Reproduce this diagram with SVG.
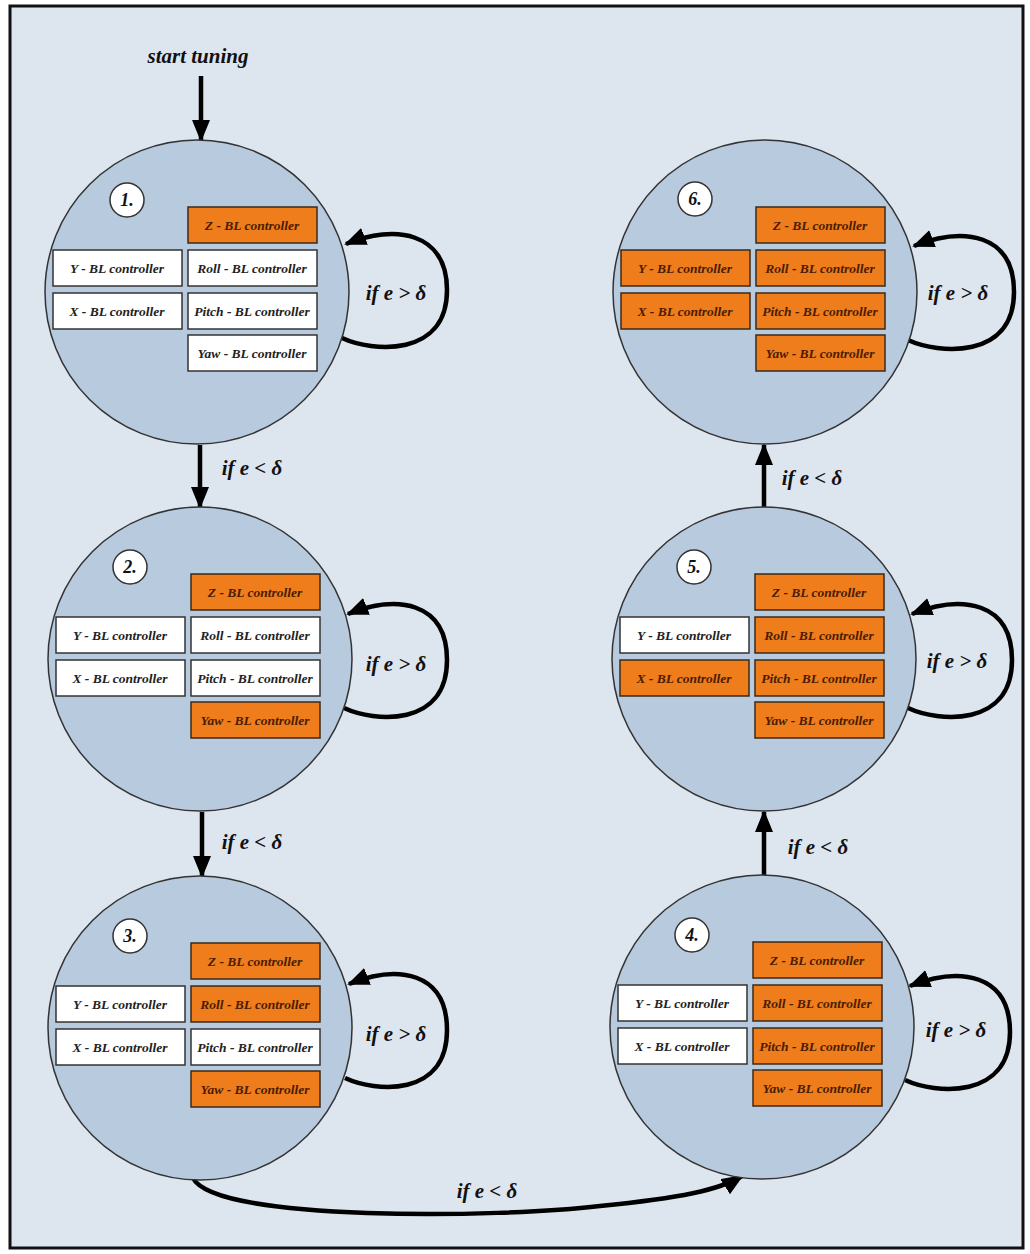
<svg xmlns="http://www.w3.org/2000/svg" width="1030" height="1254" viewBox="0 0 1030 1254">
<style>
.frame{fill:#dde5ee;stroke:#111;stroke-width:3}
.state{fill:#b8cade;stroke:#333;stroke-width:1.5}
.num{fill:#fff;stroke:#333;stroke-width:1.5}
.numt{font-family:"Liberation Serif","DejaVu Serif",serif;font-style:italic;font-weight:bold;font-size:18px;fill:#111;text-anchor:middle}
.bw{fill:#fff;stroke:#333;stroke-width:1.5}
.bo{fill:#f07d1c;stroke:#3a2a1a;stroke-width:1.5}
.bt{font-family:"Liberation Serif","DejaVu Serif",serif;font-style:italic;font-weight:bold;font-size:13.5px;text-anchor:middle}
.tw{fill:#222}
.to{fill:#4a1c00}
.lbl{font-family:"Liberation Serif","DejaVu Serif",serif;font-style:italic;font-weight:bold;font-size:21px;fill:#111;text-anchor:middle}
.edge{fill:none;stroke:#000;stroke-width:4.5;marker-end:url(#ah)}
</style>
<defs>
<marker id="ah" markerUnits="userSpaceOnUse" markerWidth="24" markerHeight="20" refX="20" refY="9" orient="auto">
<path d="M0,0 L22,9 L0,18 Z" fill="#000"/>
</marker>
</defs>
<rect class="frame" x="10" y="6" width="1013" height="1242"/>

<g id="connectors">
<path class="edge" d="M201,76 L201,140"/>
<text class="lbl" x="198" y="63">start tuning</text>
<path class="edge" d="M200,445 L200,507"/>
<text class="lbl" x="252" y="475">if e &lt; δ</text>
<path class="edge" d="M202,812 L202,876"/>
<text class="lbl" x="252" y="849">if e &lt; δ</text>
<path class="edge" d="M193,1178 C215,1222 500,1218 600,1206 C680,1198 720,1190 742,1176"/>
<text class="lbl" x="487" y="1198">if e &lt; δ</text>
<path class="edge" d="M764,878 L764,812"/>
<text class="lbl" x="818" y="854">if e &lt; δ</text>
<path class="edge" d="M764,508 L764,445"/>
<text class="lbl" x="812" y="485">if e &lt; δ</text>
<path class="edge" d="M342,338 C372,352 447,358 447,290 C447,232 395,224 346,244"/>
<text class="lbl" x="396" y="300">if e &gt; δ</text>
<path class="edge" d="M344,708 C374,722 447,728 447,660 C447,602 397,594 348,614"/>
<text class="lbl" x="396" y="671">if e &gt; δ</text>
<path class="edge" d="M345,1078 C375,1092 447,1098 447,1030 C447,972 398,964 349,984"/>
<text class="lbl" x="396" y="1041">if e &gt; δ</text>
<path class="edge" d="M905,1080 C935,1094 1010,1100 1010,1032 C1010,974 960,966 910,986"/>
<text class="lbl" x="956" y="1037">if e &gt; δ</text>
<path class="edge" d="M908,708 C938,722 1012,728 1012,660 C1012,602 962,594 912,614"/>
<text class="lbl" x="957" y="668">if e &gt; δ</text>
<path class="edge" d="M908,340 C938,354 1014,360 1014,292 C1014,234 964,226 914,246"/>
<text class="lbl" x="958" y="300">if e &gt; δ</text>
</g>

<g id="state1">
<circle class="state" cx="197" cy="292" r="152"/>
<circle class="num" cx="127" cy="200" r="17"/><text class="numt" x="127" y="206">1.</text>
<rect class="bo" x="188" y="207" width="129" height="36"/><text class="bt to" x="252" y="230">Z - BL controller</text>
<rect class="bw" x="188" y="250" width="129" height="36"/><text class="bt tw" x="252" y="273">Roll - BL controller</text>
<rect class="bw" x="188" y="293" width="129" height="36"/><text class="bt tw" x="252" y="316">Pitch - BL controller</text>
<rect class="bw" x="188" y="335" width="129" height="36"/><text class="bt tw" x="252" y="358">Yaw - BL controller</text>
<rect class="bw" x="53" y="250" width="129" height="36"/><text class="bt tw" x="117" y="273">Y - BL controller</text>
<rect class="bw" x="53" y="293" width="129" height="36"/><text class="bt tw" x="117" y="316">X - BL controller</text>
</g>

<g id="state2">
<circle class="state" cx="200" cy="659" r="152"/>
<circle class="num" cx="130" cy="567" r="17"/><text class="numt" x="130" y="573">2.</text>
<rect class="bo" x="191" y="574" width="129" height="36"/><text class="bt to" x="255" y="597">Z - BL controller</text>
<rect class="bw" x="191" y="617" width="129" height="36"/><text class="bt tw" x="255" y="640">Roll - BL controller</text>
<rect class="bw" x="191" y="660" width="129" height="36"/><text class="bt tw" x="255" y="683">Pitch - BL controller</text>
<rect class="bo" x="191" y="702" width="129" height="36"/><text class="bt to" x="255" y="725">Yaw - BL controller</text>
<rect class="bw" x="56" y="617" width="129" height="36"/><text class="bt tw" x="120" y="640">Y - BL controller</text>
<rect class="bw" x="56" y="660" width="129" height="36"/><text class="bt tw" x="120" y="683">X - BL controller</text>
</g>

<g id="state3">
<circle class="state" cx="200" cy="1028" r="152"/>
<circle class="num" cx="130" cy="936" r="17"/><text class="numt" x="130" y="942">3.</text>
<rect class="bo" x="191" y="943" width="129" height="36"/><text class="bt to" x="255" y="966">Z - BL controller</text>
<rect class="bo" x="191" y="986" width="129" height="36"/><text class="bt to" x="255" y="1009">Roll - BL controller</text>
<rect class="bw" x="191" y="1029" width="129" height="36"/><text class="bt tw" x="255" y="1052">Pitch - BL controller</text>
<rect class="bo" x="191" y="1071" width="129" height="36"/><text class="bt to" x="255" y="1094">Yaw - BL controller</text>
<rect class="bw" x="56" y="986" width="129" height="36"/><text class="bt tw" x="120" y="1009">Y - BL controller</text>
<rect class="bw" x="56" y="1029" width="129" height="36"/><text class="bt tw" x="120" y="1052">X - BL controller</text>
</g>

<g id="state4">
<circle class="state" cx="762" cy="1027" r="152"/>
<circle class="num" cx="692" cy="935" r="17"/><text class="numt" x="692" y="941">4.</text>
<rect class="bo" x="753" y="942" width="129" height="36"/><text class="bt to" x="817" y="965">Z - BL controller</text>
<rect class="bo" x="753" y="985" width="129" height="36"/><text class="bt to" x="817" y="1008">Roll - BL controller</text>
<rect class="bo" x="753" y="1028" width="129" height="36"/><text class="bt to" x="817" y="1051">Pitch - BL controller</text>
<rect class="bo" x="753" y="1070" width="129" height="36"/><text class="bt to" x="817" y="1093">Yaw - BL controller</text>
<rect class="bw" x="618" y="985" width="129" height="36"/><text class="bt tw" x="682" y="1008">Y - BL controller</text>
<rect class="bw" x="618" y="1028" width="129" height="36"/><text class="bt tw" x="682" y="1051">X - BL controller</text>
</g>

<g id="state5">
<circle class="state" cx="764" cy="659" r="152"/>
<circle class="num" cx="694" cy="567" r="17"/><text class="numt" x="694" y="573">5.</text>
<rect class="bo" x="755" y="574" width="129" height="36"/><text class="bt to" x="819" y="597">Z - BL controller</text>
<rect class="bo" x="755" y="617" width="129" height="36"/><text class="bt to" x="819" y="640">Roll - BL controller</text>
<rect class="bo" x="755" y="660" width="129" height="36"/><text class="bt to" x="819" y="683">Pitch - BL controller</text>
<rect class="bo" x="755" y="702" width="129" height="36"/><text class="bt to" x="819" y="725">Yaw - BL controller</text>
<rect class="bw" x="620" y="617" width="129" height="36"/><text class="bt tw" x="684" y="640">Y - BL controller</text>
<rect class="bo" x="620" y="660" width="129" height="36"/><text class="bt to" x="684" y="683">X - BL controller</text>
</g>

<g id="state6">
<circle class="state" cx="765" cy="292" r="152"/>
<circle class="num" cx="695" cy="199" r="17"/><text class="numt" x="695" y="205">6.</text>
<rect class="bo" x="756" y="207" width="129" height="36"/><text class="bt to" x="820" y="230">Z - BL controller</text>
<rect class="bo" x="756" y="250" width="129" height="36"/><text class="bt to" x="820" y="273">Roll - BL controller</text>
<rect class="bo" x="756" y="293" width="129" height="36"/><text class="bt to" x="820" y="316">Pitch - BL controller</text>
<rect class="bo" x="756" y="335" width="129" height="36"/><text class="bt to" x="820" y="358">Yaw - BL controller</text>
<rect class="bo" x="621" y="250" width="129" height="36"/><text class="bt to" x="685" y="273">Y - BL controller</text>
<rect class="bo" x="621" y="293" width="129" height="36"/><text class="bt to" x="685" y="316">X - BL controller</text>
</g>
</svg>
